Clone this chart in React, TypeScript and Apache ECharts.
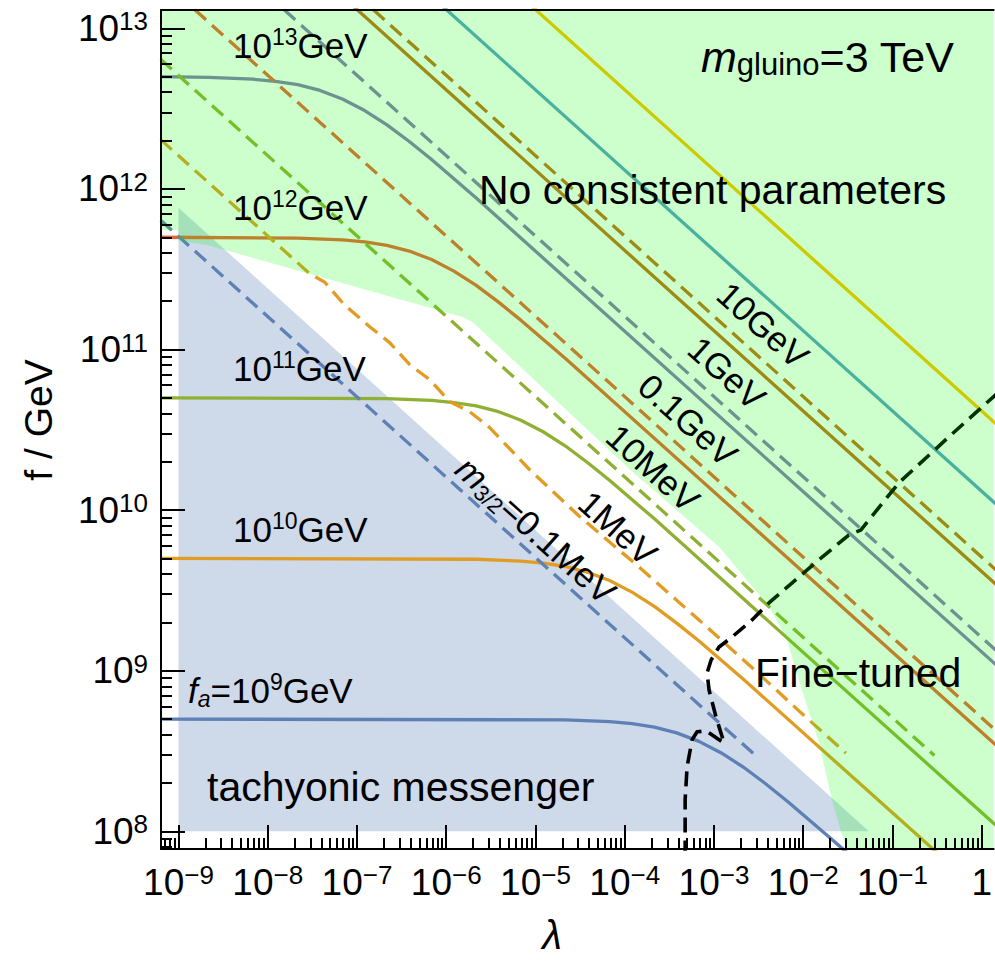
import React, { useEffect, useRef } from "react";
import * as echarts from "echarts";

const FONT = '"Liberation Sans", Arial, Helvetica, sans-serif';

// axis ranges in log10 units
const X_MIN = -9.196;
const X_MAX = 0.134;
const Y_MIN = 7.89;
const Y_MAX = 13.114;

const xMajorTicks = [-9, -8, -7, -6, -5, -4, -3, -2, -1, 0];
const yMajorTicks = [8, 9, 10, 11, 12, 13];
const minorMultipliers = [2, 3, 4, 5, 6, 7, 8, 9];

function minorTicks(lo: number, hi: number): number[] {
  const out: number[] = [];
  for (let n = Math.floor(lo) - 1; n <= Math.ceil(hi); n++) {
    for (const k of minorMultipliers) {
      const v = n + Math.log10(k);
      if (v > lo && v < hi) out.push(v);
    }
  }
  return out;
}
const xMinorTicks = minorTicks(X_MIN, X_MAX);
const yMinorTicks = minorTicks(Y_MIN, Y_MAX);

// Mathematica-like palette
const C1 = "#5E81B5";
const C2 = "#E19C24";
const C3 = "#8FB032";
const C4 = "#EB6235";
const C5 = "#8778B3";
const C6 = "#C56E1A";
const C7 = "#5D9EC7";
const C8 = "#FFBF00";

// solid lines: f_a contours  [log10 lambda, log10 f]
const fa1e9: number[][] = [[-9.2, 8.699], [-4.668, 8.694], [-4.168, 8.683], [-3.918, 8.67], [-3.668, 8.649], [-3.418, 8.613], [-3.168, 8.56], [-2.918, 8.488], [-2.668, 8.399], [-2.418, 8.295], [-2.168, 8.183], [-1.668, 7.944], [-1.4, 7.815]];
const fa1e10: number[][] = [[-9.2, 9.699], [-5.664, 9.694], [-5.164, 9.683], [-4.914, 9.67], [-4.664, 9.649], [-4.414, 9.613], [-4.164, 9.56], [-3.914, 9.488], [-3.664, 9.399], [-3.414, 9.295], [-3.164, 9.183], [-2.664, 8.944], [-0.4, 7.817]];
const fa1e11: number[][] = [[-9.2, 10.699], [-6.664, 10.694], [-6.164, 10.683], [-5.914, 10.67], [-5.664, 10.649], [-5.414, 10.613], [-5.164, 10.56], [-4.914, 10.488], [-4.664, 10.399], [-4.414, 10.295], [-4.164, 10.183], [-3.664, 9.944], [0.2, 8.017]];
const fa1e12: number[][] = [[-9.2, 11.699], [-7.664, 11.694], [-7.164, 11.683], [-6.914, 11.67], [-6.664, 11.649], [-6.414, 11.613], [-6.164, 11.56], [-5.914, 11.488], [-5.664, 11.399], [-5.414, 11.295], [-5.164, 11.183], [-4.664, 10.944], [0.2, 8.517]];
const fa1e13: number[][] = [[-9.2, 12.699], [-8.664, 12.694], [-8.164, 12.683], [-7.914, 12.67], [-7.664, 12.649], [-7.414, 12.613], [-7.164, 12.56], [-6.914, 12.488], [-6.664, 12.399], [-6.414, 12.295], [-6.164, 12.183], [-5.664, 11.944], [0.2, 9.017]];
const fa1e14: number[][] = [[-7.3, 13.267], [0.2, 9.517]];
const fa1e15: number[][] = [[-6.3, 13.267], [0.2, 10.017]];
const fa1e16: number[][] = [[-5.3, 13.267], [0.2, 10.517]];

// dashed lines: gravitino mass contours
const m01MeV: number[][] = [[-9.2, 11.805], [-2.54, 8.475]];
const m1MeV: number[][] = [[-9.2, 12.307], [-7.753, 11.584], [-7.529, 11.472], [-7.361, 11.419], [-7.138, 11.276], [-6.858, 11.142], [-6.634, 11.043], [-6.411, 10.907], [-6.187, 10.813], [-5.963, 10.677], [-5.74, 10.614], [-5.516, 10.515], [-5.068, 10.253], [-4.509, 9.962], [-3.838, 9.645], [-3.167, 9.316], [-2.496, 8.98], [-2.048, 8.75], [-1.522, 8.487]];
const m10MeV: number[][] = [[-9.2, 12.807], [-0.53, 8.472]];
const m01GeV: number[][] = [[-9.2, 13.307], [0.2, 8.607]];
const m1GeV: number[][] = [[-8.2, 13.307], [0.2, 9.107]];
const m10GeV: number[][] = [[-7.2, 13.307], [0.2, 9.607]];

// black dashed boundary
const blackBoundary: number[][] = [[-3.323, 7.85], [-3.323, 8.197], [-3.301, 8.402], [-3.245, 8.57], [-3.189, 8.62], [-3.088, 8.625], [-2.887, 8.55], [-2.977, 8.712], [-3.055, 8.88], [-3.077, 8.986], [-3.032, 9.067], [-2.943, 9.148], [-2.798, 9.21], [-2.574, 9.316], [-2.384, 9.422], [-2.127, 9.546], [-1.825, 9.69], [-1.49, 9.845], [-1.355, 9.876], [-0.93, 10.169], [-0.37, 10.455], [0.2, 10.74]];

// regions
const tachyonicRegion: number[][] = [[-9.0, 11.882], [-1.265, 8.0], [-9.0, 8.0]];
const noConsistentRegion: number[][] = [
  [X_MIN, Y_MAX], [X_MAX, Y_MAX], [X_MAX, Y_MIN],
  [-1.511, Y_MIN], [-1.578, 8.0], [-1.679, 8.198], [-1.825, 8.553], [-2.015, 8.882], [-2.194, 9.212], [-2.384, 9.398],
  [-2.943, 9.772], [-3.916, 10.239], [-5.706, 11.172], [-5.818, 11.203], [-8.681, 11.651], [-9.0, 11.676], [-9.005, 11.745], [X_MIN, 11.745],
];

function polygonSeries(points: number[][], fill: string, z: number) {
  return {
    type: "custom",
    coordinateSystem: "cartesian2d",
    xAxisIndex: 0,
    yAxisIndex: 0,
    silent: true,
    z,
    data: [points[0]],
    renderItem: (_p: any, api: any) => ({
      type: "polygon",
      shape: { points: points.map((p) => api.coord(p)) },
      style: { fill },
    }),
  };
}

function lineSeries(data: number[][], color: string, dashed: boolean, z = 2, width = 3.3) {
  return {
    type: "line",
    xAxisIndex: 0,
    yAxisIndex: 0,
    data,
    showSymbol: false,
    symbol: "none",
    silent: true,
    smooth: false,
    z,
    lineStyle: { color, width, type: dashed ? [15, 8] : "solid", cap: "butt", join: "round" },
  };
}

const axisRich = {
  b: { fontSize: 37, lineHeight: 40, fontFamily: FONT, color: "#000", verticalAlign: "middle" },
  s: { fontSize: 26, lineHeight: 24, fontFamily: FONT, color: "#000", verticalAlign: "top" },
};
const powLabel = (v: number) => {
  const n = Math.round(v);
  if (n === 0) return "{b|1}";
  return `{b|10}{s|${n < 0 ? "\u2212" : ""}${Math.abs(n)}}`;
};

const black = { color: "#000", width: 2 };

const gevRich = {
  b: { fontSize: 35, lineHeight: 40, fontFamily: FONT, fill: "#000", verticalAlign: "middle" },
  s: { fontSize: 23, lineHeight: 22, fontFamily: FONT, fill: "#000", verticalAlign: "top" },
  i: { fontSize: 35, lineHeight: 40, fontFamily: FONT, fill: "#000", fontStyle: "italic", verticalAlign: "middle" },
  ai: { fontSize: 23, lineHeight: 20, fontFamily: FONT, fill: "#000", fontStyle: "italic", verticalAlign: "bottom" },
  sub: { fontSize: 22, lineHeight: 20, fontFamily: FONT, fill: "#000", verticalAlign: "bottom" },
};
const bigRich = {
  b: { fontSize: 41, lineHeight: 44, fontFamily: FONT, fill: "#000", verticalAlign: "middle" },
  i: { fontSize: 41, lineHeight: 44, fontFamily: FONT, fill: "#000", fontStyle: "italic", verticalAlign: "middle" },
};
const gluinoRich = {
  b: { fontSize: 43, lineHeight: 46, fontFamily: FONT, fill: "#000", verticalAlign: "middle" },
  i: { fontSize: 43, lineHeight: 46, fontFamily: FONT, fill: "#000", fontStyle: "italic", verticalAlign: "middle" },
  sub: { fontSize: 31, lineHeight: 24, fontFamily: FONT, fill: "#000", verticalAlign: "bottom" },
};

const ROT = -Math.atan((0.5 * 160.68) / 89.4);

function txt(x: number, y: number, text: string, rich: any, align = "left", rotation = 0) {
  return {
    type: "text",
    x,
    y,
    rotation,
    z: 100,
    silent: true,
    style: { text, rich, fill: "#000", fontFamily: FONT, fontSize: 35, align, verticalAlign: "middle" },
  };
}

const option: any = {
  animation: false,
  backgroundColor: "#fff",
  grid: { left: 161, top: 10, right: 0, bottom: 116, containLabel: false },
  xAxis: [
    {
      type: "value", min: X_MIN, max: X_MAX, position: "bottom", z: 10,
      axisLine: { show: true, onZero: false, lineStyle: black },
      axisTick: { show: true, inside: true, length: 24, customValues: xMajorTicks, lineStyle: black },
      axisLabel: { show: true, customValues: xMajorTicks, formatter: powLabel, rich: axisRich, margin: 13 },
      splitLine: { show: false },
    },
    {
      type: "value", min: X_MIN, max: X_MAX, position: "bottom", z: 10,
      axisLine: { show: false, onZero: false },
      axisTick: { show: true, inside: true, length: 11, customValues: xMinorTicks, lineStyle: black },
      axisLabel: { show: false },
      splitLine: { show: false },
    },
    {
      type: "value", min: X_MIN, max: X_MAX, position: "top", z: 10,
      axisLine: { show: true, onZero: false, lineStyle: black },
      axisTick: { show: false },
      axisLabel: { show: false },
      splitLine: { show: false },
    },
  ],
  yAxis: [
    {
      type: "value", min: Y_MIN, max: Y_MAX, position: "left", z: 10,
      axisLine: { show: true, onZero: false, lineStyle: black },
      axisTick: { show: true, inside: true, length: 24, customValues: yMajorTicks, lineStyle: black },
      axisLabel: { show: true, customValues: yMajorTicks, formatter: powLabel, rich: axisRich, margin: 13 },
      splitLine: { show: false },
    },
    {
      type: "value", min: Y_MIN, max: Y_MAX, position: "left", z: 10,
      axisLine: { show: false, onZero: false },
      axisTick: { show: true, inside: true, length: 11, customValues: yMinorTicks, lineStyle: black },
      axisLabel: { show: false },
      splitLine: { show: false },
    },
  ],
  series: [
    polygonSeries(tachyonicRegion, "rgba(94,129,181,0.3)", 1),
    lineSeries(fa1e9, C1, false),
    lineSeries(fa1e10, C2, false),
    lineSeries(fa1e11, C3, false),
    lineSeries(fa1e12, C4, false),
    lineSeries(fa1e13, C5, false),
    lineSeries(fa1e14, C6, false),
    lineSeries(fa1e15, C7, false),
    lineSeries(fa1e16, C8, false),
    lineSeries(m01MeV, C1, true),
    lineSeries(m1MeV, C2, true),
    lineSeries(m10MeV, C3, true),
    lineSeries(m01GeV, C4, true),
    lineSeries(m1GeV, C5, true),
    lineSeries(m10GeV, C6, true),
    lineSeries(blackBoundary, "#000", true, 2, 3.6),
    polygonSeries(noConsistentRegion, "rgba(0,255,0,0.2)", 3),
  ],
  graphic: [
    txt(233, 45, "{b|10}{s|13}{b|GeV}", gevRich),
    txt(233, 207, "{b|10}{s|12}{b|GeV}", gevRich),
    txt(233, 368, "{b|10}{s|11}{b|GeV}", gevRich),
    txt(233, 529, "{b|10}{s|10}{b|GeV}", gevRich),
    txt(188, 690, "{i|f}{ai|a}{b|=10}{s|9}{b|GeV}", gevRich),
    txt(701, 57, "{i|m}{sub|gluino}{b|=3 TeV}", gluinoRich),
    txt(479, 190, "{b|No consistent parameters}", bigRich),
    txt(207, 787, "{b|tachyonic messenger}", bigRich),
    txt(755, 673, "{b|Fine\u2212tuned}", bigRich),
    txt(763, 325, "{b|10GeV}", gevRich, "center", ROT),
    txt(727, 373, "{b|1GeV}", gevRich, "center", ROT),
    txt(688, 420, "{b|0.1GeV}", gevRich, "center", ROT),
    txt(653, 468, "{b|10MeV}", gevRich, "center", ROT),
    txt(618, 528, "{b|1MeV}", gevRich, "center", ROT),
    txt(536, 530, "{i|m}{sub|3/2}{b|=0.1MeV}", gevRich, "center", ROT),
    {
      type: "text", x: 38, y: 420, rotation: Math.PI / 2, z: 100, silent: true,
      style: { text: "f / GeV", fill: "#000", fontFamily: FONT, fontSize: 39, align: "center", verticalAlign: "middle" },
    },
    {
      type: "text", x: 552, y: 935, z: 100, silent: true,
      style: { text: "\u03bb", fill: "#000", fontFamily: FONT, fontSize: 40, fontStyle: "italic", align: "center", verticalAlign: "middle" },
    },
  ],
};

export default function App() {
  const ref = useRef<HTMLDivElement>(null);
  useEffect(() => {
    if (!ref.current) return;
    const chart = echarts.init(ref.current, null, { renderer: "svg" });
    chart.setOption(option);
    return () => chart.dispose();
  }, []);
  return <div ref={ref} style={{ position: "absolute", left: 0, top: 0, width: 995, height: 965 }} />;
}
